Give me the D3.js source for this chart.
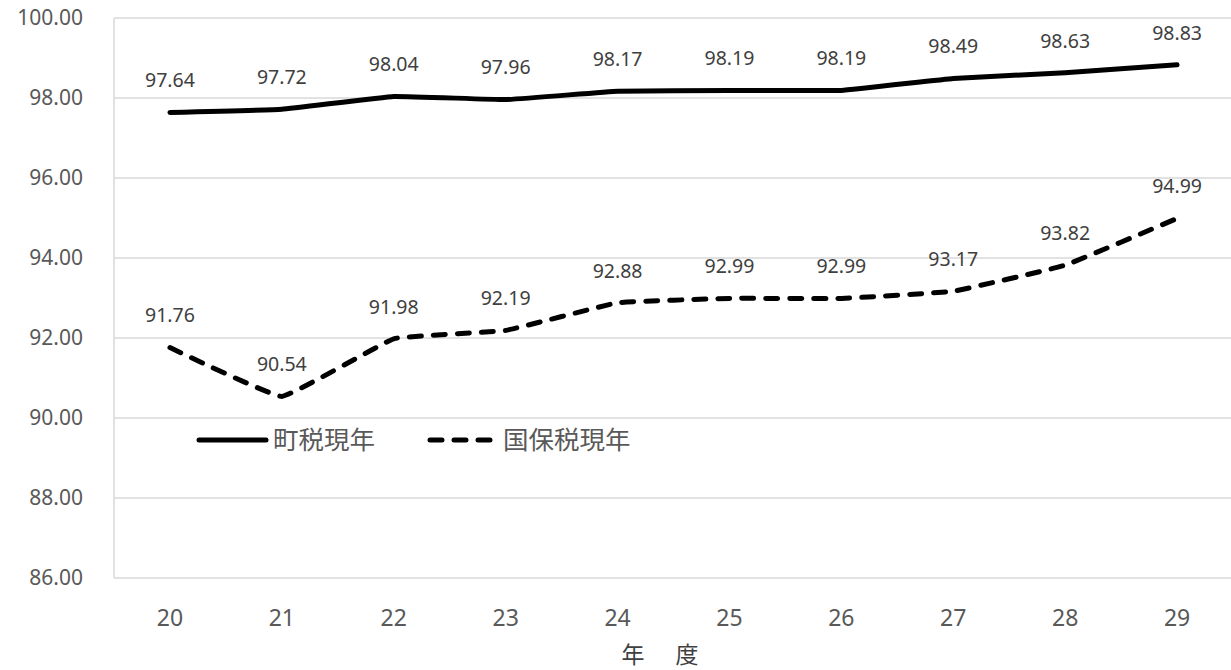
<!DOCTYPE html>
<html lang="ja">
<head>
<meta charset="utf-8">
<script src="https://cdn.jsdelivr.net/npm/d3@7"></script>
<style>
  html, body { margin: 0; padding: 0; background: #fff; }
  svg { display: block; font-family: "Noto Sans", "Noto Sans CJK JP", sans-serif; }
  .grid line { stroke: #d9d9d9; stroke-width: 1.5; }
  .tick-label { fill: #595959; font-size: 21px; }
  .xtick { font-size: 23px; }
  .data-label { fill: #404040; font-size: 19.5px; }
  .legend-label { fill: #595959; font-size: 25.5px; font-family: "Noto Sans CJK JP", sans-serif; }
  .axis-title { fill: #404040; font-size: 23px; font-family: "Noto Sans CJK JP", sans-serif; }
</style>
</head>
<body>
<div id="chart"></div>
<script>
'use strict';

// ── data ──────────────────────────────────────────────
const years = ['20', '21', '22', '23', '24', '25', '26', '27', '28', '29'];
const townTax = [97.64, 97.72, 98.04, 97.96, 98.17, 98.19, 98.19, 98.49, 98.63, 98.83];
const nhiTax = [91.76, 90.54, 91.98, 92.19, 92.88, 92.99, 92.99, 93.17, 93.82, 94.99];
const yTicks = [86, 88, 90, 92, 94, 96, 98, 100];
const seriesNames = ['町税現年', '国保税現年'];

// ── layout ────────────────────────────────────────────
const totalW = 1231, totalH = 670;
const margin = { top: 18, right: -2, bottom: 92, left: 114 };
const W = totalW - margin.left - margin.right;
const H = totalH - margin.top - margin.bottom;

const svg = d3.select('#chart').append('svg')
    .attr('width', totalW)
    .attr('height', totalH);

const chart = svg.append('g')
    .attr('transform', `translate(${margin.left},${margin.top})`);

// ── scales ────────────────────────────────────────────
const x = d3.scaleBand().domain(years).range([0, W]);
const cx = d => x(d) + x.bandwidth() / 2;
const y = d3.scaleLinear().domain([86, 100]).range([H, 0]);

// gridlines + left axis line
const grid = chart.append('g').attr('class', 'grid');
grid.selectAll('line.h')
    .data(yTicks)
    .join('line')
    .attr('x1', 0).attr('x2', W)
    .attr('y1', d => y(d)).attr('y2', d => y(d));
grid.append('line')
    .attr('x1', 0).attr('x2', 0)
    .attr('y1', 0).attr('y2', H);

// y tick labels
chart.selectAll('text.ytick')
    .data(yTicks)
    .join('text')
    .attr('class', 'tick-label')
    .attr('x', -31)
    .attr('y', d => y(d))
    .attr('dy', '0.35em')
    .attr('text-anchor', 'end')
    .text(d => d.toFixed(2));

// x tick labels
chart.selectAll('text.xtick')
    .data(years)
    .join('text')
    .attr('class', 'tick-label xtick')
    .attr('x', d => cx(d))
    .attr('y', H + 40)
    .attr('dy', '0.35em')
    .attr('text-anchor', 'middle')
    .text(d => d);

// axis title
svg.append('text')
    .attr('class', 'axis-title')
    .attr('x', 662)
    .attr('y', 655)
    .attr('dy', '0.35em')
    .attr('text-anchor', 'middle')
    .attr('letter-spacing', 4)
    .text('年　度');

// ── lines ─────────────────────────────────────────────
const series = [
    { name: seriesNames[0], values: townTax, dash: null },
    { name: seriesNames[1], values: nhiTax, dash: '12,12' }
];

// light smoothing, close to the spreadsheet's smoothed line
const line = d3.line()
    .x((d, i) => cx(years[i]))
    .y(d => y(d))
    .curve(d3.curveCardinal.tension(0.75));

series.forEach(s => {
    chart.append('path')
        .datum(s.values)
        .attr('fill', 'none')
        .attr('stroke', '#000')
        .attr('stroke-width', 5)
        .attr('stroke-linecap', 'round')
        .attr('stroke-linejoin', 'round')
        .attr('stroke-dasharray', s.dash)
        .attr('d', line);

    chart.selectAll(null)
        .data(s.values)
        .join('text')
        .attr('class', 'data-label')
        .attr('x', (d, i) => cx(years[i]))
        .attr('y', d => y(d) - 32)
        .attr('dy', '0.35em')
        .attr('text-anchor', 'middle')
        .text(d => d.toFixed(2));
});

// ── legend ────────────────────────────────────────────
const legendItems = [
    { name: seriesNames[0], dash: null, x0: 199, x1: 266, tx: 273 },
    { name: seriesNames[1], dash: '12,12', x0: 430, x1: 490, tx: 503 }
];
const legendY = 440;
legendItems.forEach(l => {
    svg.append('line')
        .attr('x1', l.x0).attr('x2', l.x1)
        .attr('y1', legendY).attr('y2', legendY)
        .attr('stroke', '#000')
        .attr('stroke-width', 5)
        .attr('stroke-linecap', 'round')
        .attr('stroke-dasharray', l.dash);
    svg.append('text')
        .attr('class', 'legend-label')
        .attr('x', l.tx)
        .attr('y', legendY)
        .attr('dy', '0.35em')
        .text(l.name);
});
</script>
</body>
</html>
